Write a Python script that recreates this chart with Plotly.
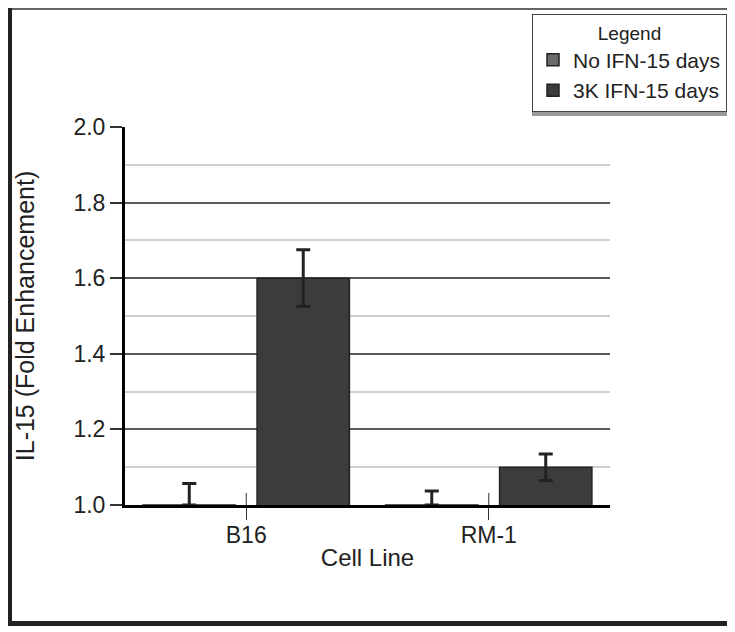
import plotly.graph_objects as go

# data
cell_lines = ["B16", "RM-1"]
no_ifn = [1.0, 1.0]
no_ifn_err = [0.057, 0.037]
ifn_3k = [1.6, 1.1]
ifn_3k_err = [0.075, 0.035]

# page has an 8px body margin, so work in page pixels and shift
OFF = 8
W, H = 735 - OFF, 632 - OFF
ML, MR, MT, MB = 125 - OFF, 735 - 610, 127 - OFF, 632 - 505
PW, PH = W - ML - MR, H - MT - MB


def px_x(p):
    # page pixel -> paper x
    return (p - OFF - ML) / PW


def px_y(p):
    # page pixel -> paper y
    return (H - MB - (p - OFF)) / PH


def frame_line(xa, ya, xb, yb, color, width):
    return dict(type="line", xref="paper", yref="paper",
                x0=px_x(xa), y0=px_y(ya), x1=px_x(xb), y1=px_y(yb),
                line=dict(color=color, width=width), layer="above")


FONT = "Liberation Sans, Arial, sans-serif"
INK = "#222222"

fig = go.Figure()
fig.add_trace(go.Bar(
    x=cell_lines, y=no_ifn, name="No IFN-15 days",
    marker=dict(color="#6b6b6b", line=dict(color=INK, width=1.5)),
    error_y=dict(type="data", symmetric=False, array=no_ifn_err,
                 arrayminus=[0, 0], color=INK, thickness=3, width=7),
))
fig.add_trace(go.Bar(
    x=cell_lines, y=ifn_3k, name="3K IFN-15 days",
    marker=dict(color="#3c3c3c", line=dict(color=INK, width=1.5)),
    error_y=dict(type="data", array=ifn_3k_err, color=INK,
                 thickness=3, width=7),
))

# inner half of the category ticks (they cross the axis in the original)
tick_shapes = [
    dict(type="line", xref="x", yref="paper", x0=c, x1=c, y0=0, y1=12 / PH,
         line=dict(color="#333", width=1), layer="above")
    for c in cell_lines
]

# outer frame (can't go left/above the page margin, so it sits at the edge)
frame = [
    frame_line(8, 9, 731, 9, "#666666", 2),
    frame_line(10, 8, 10, 626, INK, 4),
    frame_line(729, 8, 729, 626, INK, 4),
    frame_line(8, 623.5, 731, 623.5, INK, 5),
]

LEG_TOP = 14

fig.update_layout(
    width=W, height=H,
    margin=dict(l=ML, r=MR, t=MT, b=MB, autoexpand=False),
    paper_bgcolor="white", plot_bgcolor="white",
    font=dict(family=FONT, size=23, color=INK),
    barmode="group", bargap=0.06, bargroupgap=0.19,
    showlegend=True,
    legend=dict(
        x=px_x(727), y=px_y(LEG_TOP), xanchor="right", yanchor="top",
        bgcolor="white", bordercolor="#444", borderwidth=1,
        font=dict(size=21),
        title=dict(text="Legend", side="top center", font=dict(size=19)),
    ),
    xaxis=dict(
        title=dict(text="Cell Line", standoff=3, font=dict(size=24)),
        showline=True, linecolor="black", linewidth=3,
        ticks="outside", ticklen=12, tickwidth=1, tickcolor="#333",
        ticklabelstandoff=-5,
        tickfont=dict(size=23),
    ),
    yaxis=dict(
        title=dict(text="IL-15 (Fold Enhancement)", standoff=32, font=dict(size=25)),
        range=[1.0, 2.0], dtick=0.2, tickformat=".1f",
        showline=True, linecolor="black", linewidth=3,
        ticks="outside", ticklen=12, tickwidth=2, tickcolor="#333",
        showgrid=True, gridcolor="#5a5a5a", gridwidth=2, zeroline=False,
        minor=dict(dtick=0.1, showgrid=True, gridcolor="#d0d0d0", gridwidth=1.5),
        tickfont=dict(size=23),
    ),
    shapes=[
        # legend drop shadow
        dict(type="rect", xref="paper", yref="paper",
             x0=px_x(532), x1=px_x(731), y0=px_y(LEG_TOP + 102), y1=px_y(LEG_TOP + 3),
             fillcolor="#9a9a9a", line=dict(width=0), layer="above"),
    ] + frame + tick_shapes,
)

fig.write_html("out.html")
